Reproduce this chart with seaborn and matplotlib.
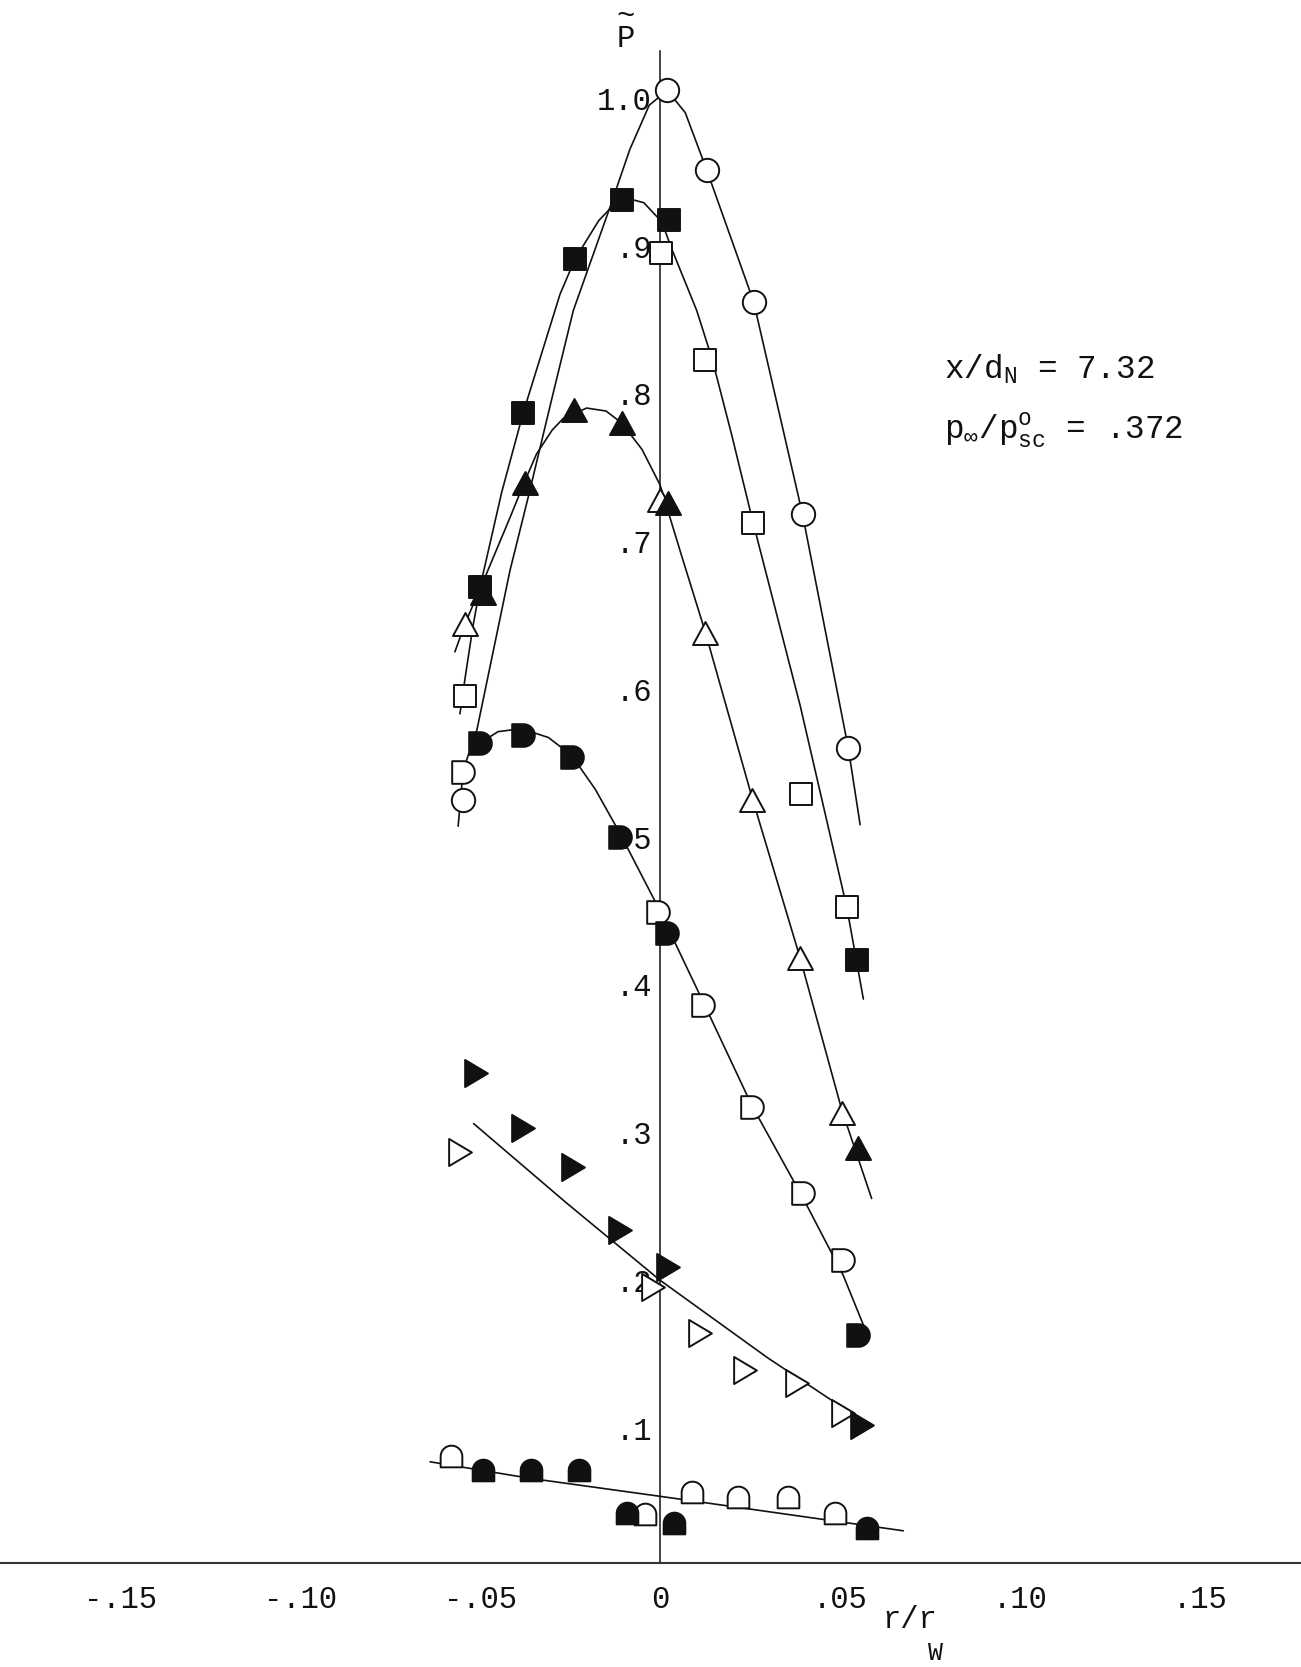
import numpy as np
import matplotlib
matplotlib.use("Agg")
import matplotlib.pyplot as plt
from matplotlib.path import Path
from matplotlib.transforms import ScaledTranslation
import seaborn as sns

# ---------------- data: radial profiles of P~ vs r/r_w ----------------
# open circles
circ_open_x = [-0.0547, 0.0018, 0.0130, 0.0260, 0.0396, 0.0523]
circ_open_y = [0.520, 1.000, 0.946, 0.857, 0.713, 0.555]
# open / filled squares
sq_open_x = [-0.0542, 0.0003, 0.0125, 0.0257, 0.0393, 0.0519]
sq_open_y = [0.590, 0.890, 0.8175, 0.707, 0.524, 0.4475]
sq_fill_x = [-0.0500, -0.0380, -0.0236, -0.0107, 0.0026, 0.0546]
sq_fill_y = [0.664, 0.782, 0.886, 0.926, 0.912, 0.4114]
# open / filled upward triangles
tri_open_x = [-0.0542, 0.0000, 0.0125, 0.0255, 0.0389, 0.0505]
tri_open_y = [0.639, 0.7227, 0.6325, 0.5196, 0.4125, 0.3076]
tri_fill_x = [-0.0492, -0.0375, -0.0239, -0.0107, 0.0023, 0.0551]
tri_fill_y = [0.660, 0.734, 0.784, 0.7746, 0.7205, 0.2839]
# open / filled half-round ("D") symbols
d_open_x = [-0.0547, -0.0005, 0.0120, 0.0255, 0.0398, 0.0509]
d_open_y = [0.5388, 0.4441, 0.381, 0.3121, 0.2535, 0.2083]
d_fill_x = [-0.0500, -0.0380, -0.0246, -0.0111, 0.0018, 0.0551]
d_fill_y = [0.558, 0.5637, 0.549, 0.4948, 0.4294, 0.1576]
# open / filled right-pointing triangles
rt_open_x = [-0.0556, -0.0019, 0.0111, 0.0236, 0.0380, 0.0509]
rt_open_y = [0.2817, 0.1903, 0.1587, 0.1339, 0.1249, 0.1045]
rt_fill_x = [-0.0510, -0.0380, -0.0241, -0.0111, 0.0023, 0.0560]
rt_fill_y = [0.3347, 0.2975, 0.2715, 0.2286, 0.2038, 0.0966]
# open / filled arch symbols
arch_open_x = [-0.0582, -0.0042, 0.0088, 0.0216, 0.0356, 0.0486]
arch_open_y = [0.0757, 0.0367, 0.0515, 0.0477, 0.0482, 0.0368]
arch_fill_x = [-0.0493, -0.0359, -0.0224, -0.0093, 0.0039, 0.0576]
arch_fill_y = [0.0662, 0.0662, 0.0662, 0.0368, 0.0305, 0.0267]

# faired curves through each family
circ_fit_x = [-0.0561, -0.0547, -0.0509, -0.0417, -0.0366, -0.0300, -0.0241,
              -0.0139, -0.0084, -0.0030, 0.0020, 0.0070, 0.0130, 0.0260,
              0.0396, 0.0523, 0.0556]
circ_fit_y = [0.502, 0.540, 0.567, 0.675, 0.725, 0.792, 0.851, 0.921, 0.960,
              0.990, 1.000, 0.985, 0.946, 0.857, 0.713, 0.555, 0.503]
sq_fit_x = [-0.0556, -0.0540, -0.0520, -0.0500, -0.0440, -0.0380, -0.0278,
            -0.0236, -0.0170, -0.0107, -0.0045, 0.0005, 0.0032, 0.0102,
            0.0145, 0.0200, 0.0257, 0.0390, 0.0519, 0.0565]
sq_fit_y = [0.578, 0.605, 0.637, 0.664, 0.728, 0.782, 0.862, 0.886, 0.912,
            0.928, 0.924, 0.911, 0.893, 0.851, 0.818, 0.766, 0.709, 0.583,
            0.447, 0.385]
tri_fit_x = [-0.0570, -0.0542, -0.0482, -0.0415, -0.0375, -0.0343, -0.0300,
             -0.0269, -0.0204, -0.0150, -0.0107, -0.0050, 0.0000, 0.0060,
             0.0125, 0.0255, 0.0389, 0.0505, 0.0588]
tri_fit_y = [0.620, 0.639, 0.673, 0.712, 0.736, 0.754, 0.770, 0.778, 0.785,
             0.783, 0.775, 0.757, 0.733, 0.685, 0.634, 0.522, 0.413, 0.310,
             0.250]
d_fit_x = [-0.0515, -0.0450, -0.0385, -0.0310, -0.0246, -0.0180, -0.0111,
           -0.0005, 0.0120, 0.0255, 0.0398, 0.0509, 0.0579]
d_fit_y = [0.556, 0.566, 0.568, 0.562, 0.550, 0.527, 0.497, 0.447, 0.383,
           0.313, 0.250, 0.198, 0.156]
rt_fit_x = [-0.0518, -0.0260, 0.0000, 0.0300, 0.0588]
rt_fit_y = [0.3007, 0.247, 0.1947, 0.142, 0.0955]
arch_fit_x = [-0.0639, -0.0361, -0.0005, 0.0676]
arch_fit_y = [0.0718, 0.0606, 0.0486, 0.0251]

# axis ticks
xtick_vals = [-0.15, -0.10, -0.05, 0.0, 0.05, 0.10, 0.15]
xtick_labels = ["-.15", "-.10", "-.05", "0", ".05", ".10", ".15"]
ytick_vals = [0.1, 0.2, 0.3, 0.4, 0.5, 0.6, 0.7, 0.8, 0.9, 1.0]
ytick_labels = [".1", ".2", ".3", ".4", ".5", ".6", ".7", ".8", ".9", "1.0"]

# ---------------- style ----------------
sns.set_theme(style="white")
plt.rcParams["font.family"] = ["Liberation Mono", "DejaVu Sans"]
plt.rcParams["mathtext.fontset"] = "custom"
plt.rcParams["mathtext.rm"] = "Liberation Mono"
plt.rcParams["mathtext.it"] = "Liberation Mono"
plt.rcParams["mathtext.bf"] = "Liberation Mono"
plt.rcParams["mathtext.tt"] = "Liberation Mono"
plt.rcParams["text.color"] = "#111111"

FS = 22
INK = "#111111"


def closed(verts):
    verts = np.asarray(verts, dtype=float)
    codes = [Path.MOVETO] + [Path.LINETO] * (len(verts) - 2) + [Path.CLOSEPOLY]
    return Path(verts, codes)


# half-round symbol: straight left side, round right side
t = np.linspace(-np.pi / 2, np.pi / 2, 30)
d_marker = closed(np.vstack([[[-0.5, -0.5]],
                             np.column_stack([0.5 * np.cos(t), 0.5 * np.sin(t)]),
                             [[-0.5, 0.5], [-0.5, -0.5]]]))
# arch symbol: flat base, round top
t2 = np.linspace(0, np.pi, 30)
arch_marker = closed(np.vstack([[[-0.5, -0.5], [0.5, -0.5]],
                                np.column_stack([0.5 * np.cos(t2), 0.5 * np.sin(t2)]),
                                [[-0.5, -0.5]]]))
up_marker = closed([[0, 0.46], [-0.5, -0.46], [0.5, -0.46], [0, 0.46]])
right_marker = closed([[0.42, 0], [-0.42, 0.5], [-0.42, -0.5], [0.42, 0]])

# ---------------- figure ----------------
fig = plt.figure(figsize=(13.01, 16.67), dpi=100)
fig.patch.set_facecolor("white")
ax = fig.add_axes([0, 0, 1, 1])
ax.set_facecolor("white")
ax.set_xlim(-0.1834, 0.1781)
ax.set_ylim(-0.0671, 1.0612)

curves = [(circ_fit_x, circ_fit_y), (sq_fit_x, sq_fit_y), (tri_fit_x, tri_fit_y),
          (d_fit_x, d_fit_y), (rt_fit_x, rt_fit_y), (arch_fit_x, arch_fit_y)]
for cx, cy in curves:
    sns.lineplot(x=cx, y=cy, ax=ax, sort=False, estimator=None,
                 color=INK, linewidth=1.2, zorder=2)


def symbols(xs, ys, marker, size, filled):
    sns.scatterplot(x=xs, y=ys, ax=ax, marker=marker, s=size ** 2,
                    facecolor=INK if filled else "white",
                    edgecolor=INK, linewidth=1.4, zorder=3, legend=False)


symbols(circ_open_x, circ_open_y, "o", 16.8, False)
symbols(sq_open_x, sq_open_y, "s", 15.5, False)
symbols(sq_fill_x, sq_fill_y, "s", 15.5, True)
symbols(tri_open_x, tri_open_y, up_marker, 18.0, False)
symbols(tri_fill_x, tri_fill_y, up_marker, 18.0, True)
symbols(d_open_x, d_open_y, d_marker, 16.3, False)
symbols(d_fill_x, d_fill_y, d_marker, 16.3, True)
symbols(rt_open_x, rt_open_y, right_marker, 19.5, False)
symbols(rt_fill_x, rt_fill_y, right_marker, 19.5, True)
symbols(arch_open_x, arch_open_y, arch_marker, 15.6, False)
symbols(arch_fill_x, arch_fill_y, arch_marker, 15.6, True)

# axes drawn through the origin
x_axis_level = 0.0036
ax.spines["top"].set_visible(False)
ax.spines["right"].set_visible(False)
ax.spines["left"].set_position(("data", 0.0))
ax.spines["left"].set_bounds(x_axis_level, 1.0266)
ax.spines["left"].set_linewidth(1.1)
ax.spines["left"].set_color(INK)
ax.spines["bottom"].set_position(("data", x_axis_level))
ax.spines["bottom"].set_linewidth(1.5)
ax.spines["bottom"].set_color("#333333")

ax.set_xticks(xtick_vals)
ax.set_xticklabels(xtick_labels)
ax.set_yticks(ytick_vals)
ax.set_yticklabels(ytick_labels)
ax.tick_params(axis="x", direction="in", length=18, width=1.1, pad=16,
               labelsize=FS, colors=INK)
ax.tick_params(axis="y", direction="in", length=15.6, width=1.1, pad=6,
               labelsize=FS, colors=INK)
shift = ScaledTranslation(0, -0.08, fig.dpi_scale_trans)
for lab in ax.get_yticklabels():
    lab.set_transform(lab.get_transform() + shift)
ax.grid(False)

# axis titles
ax.text(-0.0095, 1.0425, "~\nP", fontsize=FS, ha="center", va="center",
        multialignment="center", linespacing=0.66, clip_on=False)
ax.text(0.0617, -0.0405, "r/r", fontsize=FS, ha="left", va="baseline",
        clip_on=False)
ax.text(0.0745, -0.0625, "W", fontsize=18, ha="left", va="baseline",
        clip_on=False)

# test conditions
ax.text(0.0790, 0.805, r"$\mathrm{x/d_N}$ = 7.32", fontsize=23.5, ha="left",
        va="baseline")
ax.text(0.0790, 0.764, r"$\mathrm{p_{\infty}/p_{sc}^{o}}$ = .372", fontsize=23.5,
        ha="left", va="baseline")

fig.savefig("out.png", dpi=100, facecolor="white")
